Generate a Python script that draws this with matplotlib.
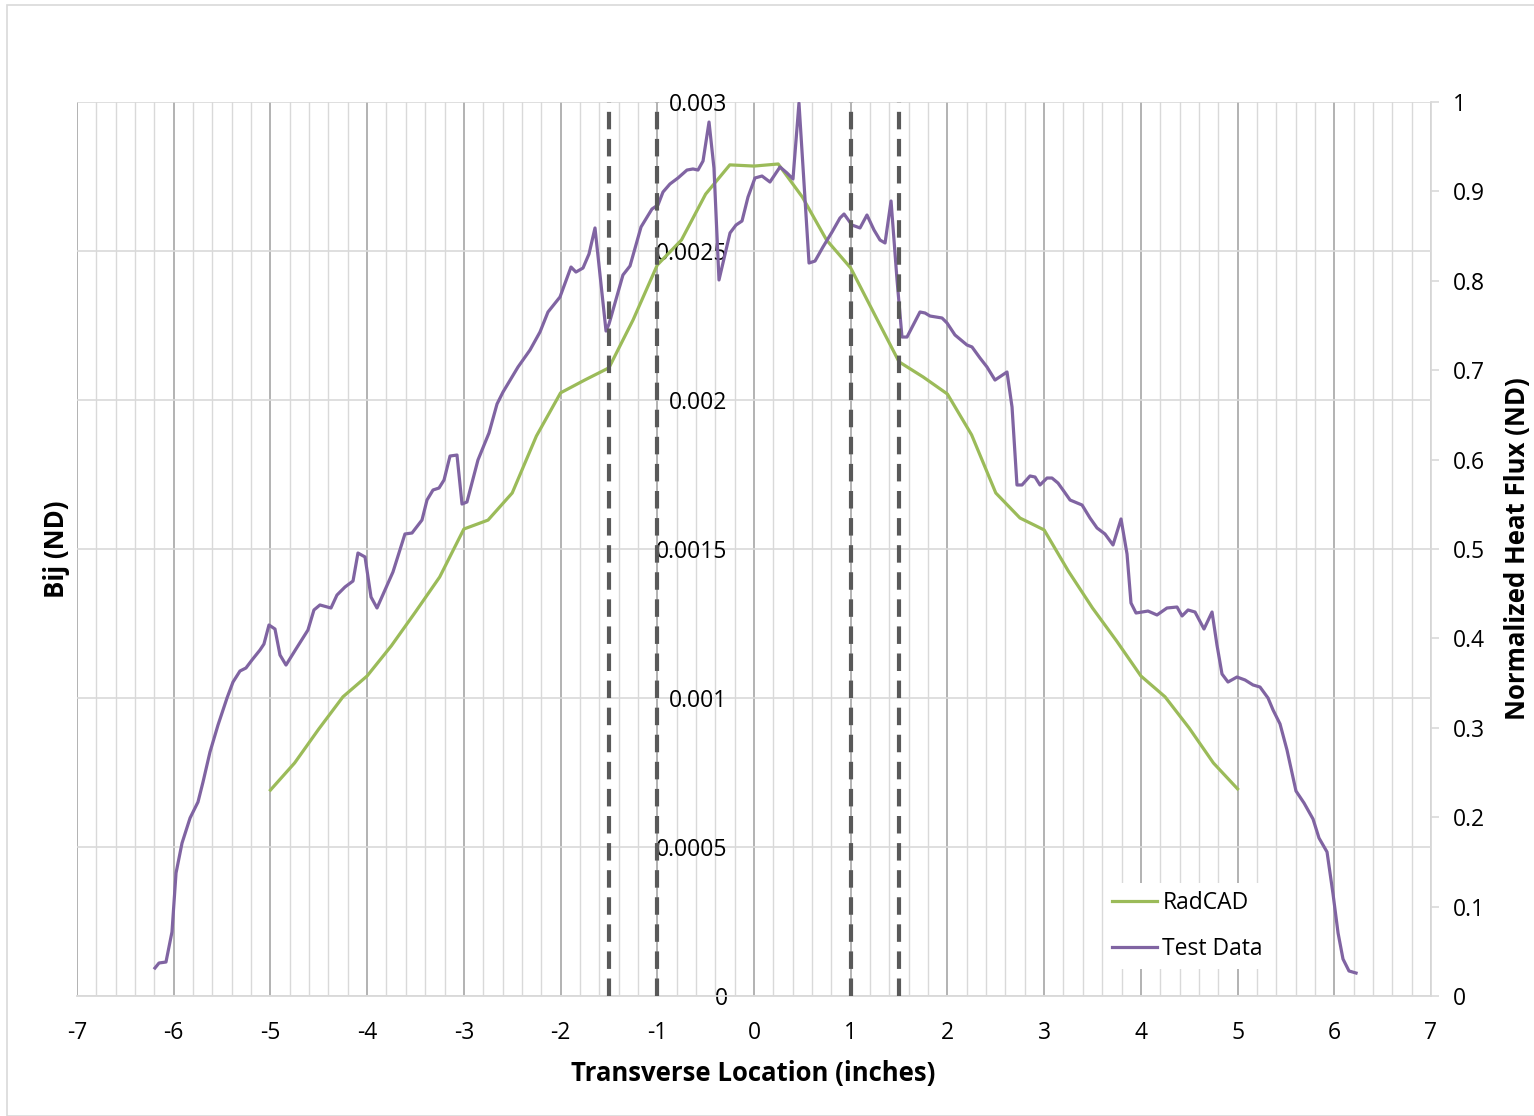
import matplotlib
matplotlib.use("Agg")
import matplotlib.pyplot as plt
from matplotlib.lines import Line2D
from matplotlib.patches import Rectangle
import numpy as np

plt.rcParams['font.family'] = ['Open Sans', 'DejaVu Sans']
plt.rcParams['axes.unicode_minus'] = False

# ---------------- data ----------------
radcad_x = [-5.0, -4.75, -4.5, -4.25, -4.0, -3.75, -3.5, -3.25, -3.0, -2.75, -2.5, -2.25,
            -2.0, -1.75, -1.5, -1.25, -1.0, -0.75, -0.5, -0.25, 0.0, 0.25, 0.5, 0.75,
            1.0, 1.25, 1.5, 1.75, 2.0, 2.25, 2.5, 2.75, 3.0, 3.25, 3.5, 3.75, 4.0, 4.25,
            4.5, 4.75, 5.0]
radcad_bij = [0.000691, 0.000782, 0.000896, 0.001004, 0.001074, 0.001175, 0.001289, 0.001406,
              0.001567, 0.001597, 0.001688, 0.001879, 0.002024, 0.002067, 0.002108, 0.002269,
              0.002453, 0.002537, 0.002691, 0.002789, 0.002785, 0.002792, 0.002681, 0.002537,
              0.002443, 0.002285, 0.002128, 0.002077, 0.002020, 0.001883, 0.001688, 0.001604,
              0.001564, 0.001426, 0.001302, 0.001191, 0.001074, 0.001004, 0.000899, 0.000782,
              0.000695]

test_x = [-6.194, -6.152, -6.080, -6.018, -5.976, -5.914, -5.831, -5.749, -5.697, -5.625,
          -5.542, -5.449, -5.387, -5.315, -5.253, -5.191, -5.108, -5.067, -5.015, -4.953,
          -4.901, -4.839, -4.736, -4.612, -4.550, -4.488, -4.374, -4.312, -4.229, -4.146,
          -4.095, -4.022, -3.960, -3.898, -3.816, -3.733, -3.609, -3.536, -3.433, -3.381,
          -3.319, -3.257, -3.205, -3.143, -3.071, -3.019, -2.968, -2.854, -2.740, -2.657,
          -2.595, -2.440, -2.316, -2.213, -2.130, -2.006, -1.892, -1.841, -1.768, -1.706,
          -1.644, -1.530, -1.499, -1.355, -1.282, -1.168, -1.055, -0.993, -0.941, -0.869,
          -0.786, -0.693, -0.631, -0.579, -0.527, -0.465, -0.414, -0.362, -0.321, -0.248,
          -0.186, -0.124, -0.062, 0.010, 0.083, 0.165, 0.269, 0.341, 0.403, 0.465,
          0.569, 0.631, 0.713, 0.807, 0.889, 0.931, 1.013, 1.096, 1.168, 1.241,
          1.303, 1.355, 1.417, 1.479, 1.530, 1.582, 1.716, 1.768, 1.820, 1.944,
          1.996, 2.078, 2.202, 2.254, 2.337, 2.409, 2.492, 2.616, 2.668, 2.719,
          2.771, 2.854, 2.906, 2.957, 3.030, 3.081, 3.143, 3.195, 3.268, 3.340,
          3.392, 3.474, 3.547, 3.629, 3.712, 3.795, 3.857, 3.898, 3.950, 4.074,
          4.167, 4.270, 4.374, 4.426, 4.488, 4.560, 4.653, 4.736, 4.787, 4.839,
          4.901, 4.994, 5.077, 5.160, 5.232, 5.315, 5.367, 5.439, 5.511, 5.604,
          5.687, 5.780, 5.842, 5.925, 5.987, 6.039, 6.090, 6.152, 6.225]
test_flux = [0.0313, 0.0369, 0.0380, 0.0716, 0.1376, 0.1711, 0.1991, 0.2170, 0.2394, 0.2729,
             0.3031, 0.3333, 0.3512, 0.3635, 0.3669, 0.3758, 0.3870, 0.3937, 0.4150, 0.4105,
             0.3814, 0.3702, 0.3881, 0.4094, 0.4318, 0.4374, 0.4340, 0.4485, 0.4575, 0.4642,
             0.4955, 0.4911, 0.4463, 0.4340, 0.4541, 0.4743, 0.5168, 0.5179, 0.5324, 0.5548,
             0.5660, 0.5682, 0.5772, 0.6040, 0.6051, 0.5503, 0.5526, 0.5996, 0.6298, 0.6622,
             0.6756, 0.7036, 0.7226, 0.7427, 0.7651, 0.7819, 0.8154, 0.8098, 0.8143, 0.8300,
             0.8591, 0.7438, 0.7517, 0.8065, 0.8166, 0.8602, 0.8803, 0.8848, 0.8993, 0.9083,
             0.9150, 0.9239, 0.9251, 0.9239, 0.9340, 0.9776, 0.9262, 0.8009, 0.8199, 0.8535,
             0.8624, 0.8669, 0.8937, 0.9150, 0.9172, 0.9105, 0.9273, 0.9206, 0.9139, 0.9989,
             0.8199, 0.8221, 0.8378, 0.8546, 0.8702, 0.8747, 0.8624, 0.8591, 0.8736, 0.8568,
             0.8456, 0.8423, 0.8893, 0.8009, 0.7371, 0.7371, 0.7651, 0.7640, 0.7606, 0.7584,
             0.7528, 0.7394, 0.7282, 0.7260, 0.7136, 0.7036, 0.6890, 0.6980, 0.6588, 0.5716,
             0.5716, 0.5817, 0.5805, 0.5716, 0.5794, 0.5794, 0.5738, 0.5660, 0.5548, 0.5515,
             0.5492, 0.5347, 0.5235, 0.5168, 0.5045, 0.5336, 0.4944, 0.4396, 0.4284, 0.4306,
             0.4262, 0.4340, 0.4351, 0.4251, 0.4318, 0.4295, 0.4105, 0.4295, 0.3926, 0.3602,
             0.3512, 0.3568, 0.3535, 0.3479, 0.3456, 0.3333, 0.3199, 0.3043, 0.2752, 0.2293,
             0.2159, 0.1980, 0.1767, 0.1611, 0.1141, 0.0705, 0.0414, 0.0280, 0.0257]

dashed_x = [-1.5, -1.0, 1.0, 1.5]

x_ticks = [-7, -6, -5, -4, -3, -2, -1, 0, 1, 2, 3, 4, 5, 6, 7]
bij_ticks = [0, 0.0005, 0.001, 0.0015, 0.002, 0.0025, 0.003]
bij_labels = ['0', '0.0005', '0.001', '0.0015', '0.002', '0.0025', '0.003']
flux_ticks = [0, 0.1, 0.2, 0.3, 0.4, 0.5, 0.6, 0.7, 0.8, 0.9, 1.0]
flux_labels = ['0', '0.1', '0.2', '0.3', '0.4', '0.5', '0.6', '0.7', '0.8', '0.9', '1']

# ---------------- figure ----------------
W, H = 1534, 1116
fig = plt.figure(figsize=(W / 100, H / 100), dpi=100)
fig.patches.append(Rectangle((7 / W, 0), 1.2, 1 - 5 / H, transform=fig.transFigure,
                             fill=False, edgecolor='#d9d9d9', linewidth=1.2))

ax = fig.add_axes([77 / W, 1 - 996 / H, (1431 - 77) / W, (996 - 102) / H])
ax2 = ax.twinx()

GREEN = '#9bbb59'
PURPLE = '#8064a2'
FS = 16.5
FSB = 18.5
LW = 2.3

ax.set_xlim(-7, 7)
ax.set_ylim(0, 0.003)
ax2.set_ylim(0, 1)

# gridlines
ax.set_xticks(x_ticks)
ax.set_xticks(np.arange(-7, 7.001, 0.2), minor=True)
ax.set_yticks(bij_ticks)
ax.set_yticklabels(bij_labels)
ax.grid(True, which='minor', axis='x', color='#d9d9d9', linewidth=1.0, zorder=0)
ax.grid(True, which='major', axis='x', color='#a6a6a6', linewidth=1.2, zorder=0)
ax.grid(True, which='major', axis='y', color='#d9d9d9', linewidth=1.2, zorder=0)
ax.set_axisbelow(True)

# spines
for s in ['top', 'right']:
    ax.spines[s].set_visible(False)
ax.spines['bottom'].set_color('#d9d9d9')
ax.spines['bottom'].set_linewidth(1.3)
ax.spines['left'].set_position(('data', 0))
ax.spines['left'].set_visible(False)
ax.tick_params(axis='x', which='both', length=0, labelsize=FS, pad=18, colors='black')
ax.tick_params(axis='y', which='both', length=0, labelsize=FS, pad=19, colors='black')

for s in ['top', 'left', 'bottom']:
    ax2.spines[s].set_visible(False)
ax2.spines['right'].set_color('#d9d9d9')
ax2.spines['right'].set_linewidth(1.3)
ax2.set_yticks(flux_ticks)
ax2.set_yticklabels(flux_labels)
ax2.tick_params(axis='y', length=5.5, width=1.2, color='#d9d9d9', labelsize=FS, pad=10,
                labelcolor='black')

# series
ax.plot(radcad_x, radcad_bij, color=GREEN, linewidth=LW, solid_joinstyle='round', zorder=3)
ax2.plot(test_x, test_flux, color=PURPLE, linewidth=LW, solid_joinstyle='round', zorder=3)

for xv in dashed_x:
    ax2.plot([xv, xv], [0, 1], color='#595959', linewidth=3.0, dashes=(4.2, 2.3),
             zorder=4, clip_on=False)

# labels
fig.text(753 / W, 1 - 1073 / H, 'Transverse Location (inches)', ha='center', va='center',
         fontsize=FSB, fontweight='bold')
fig.text(57 / W, 1 - 549 / H, 'Bij (ND)', rotation=90, ha='center', va='center',
         fontsize=FSB, fontweight='bold')
fig.text(1518 / W, 1 - 549 / H, 'Normalized Heat Flux (ND)', rotation=90, ha='center',
         va='center', fontsize=FSB, fontweight='bold')

handles = [Line2D([], [], color=GREEN, linewidth=LW), Line2D([], [], color=PURPLE, linewidth=LW)]
leg = ax2.legend(handles, ['RadCAD', 'Test Data'], loc='upper left',
                 bbox_to_anchor=(1104 / W, 1 - 883 / H), bbox_transform=fig.transFigure,
                 fontsize=FS, frameon=True, facecolor='white', edgecolor='none', framealpha=1,
                 fancybox=False, handlelength=1.95, handletextpad=0.25, labelspacing=0.95,
                 borderpad=0.35, borderaxespad=0)

fig.savefig('out.png', dpi=100)
